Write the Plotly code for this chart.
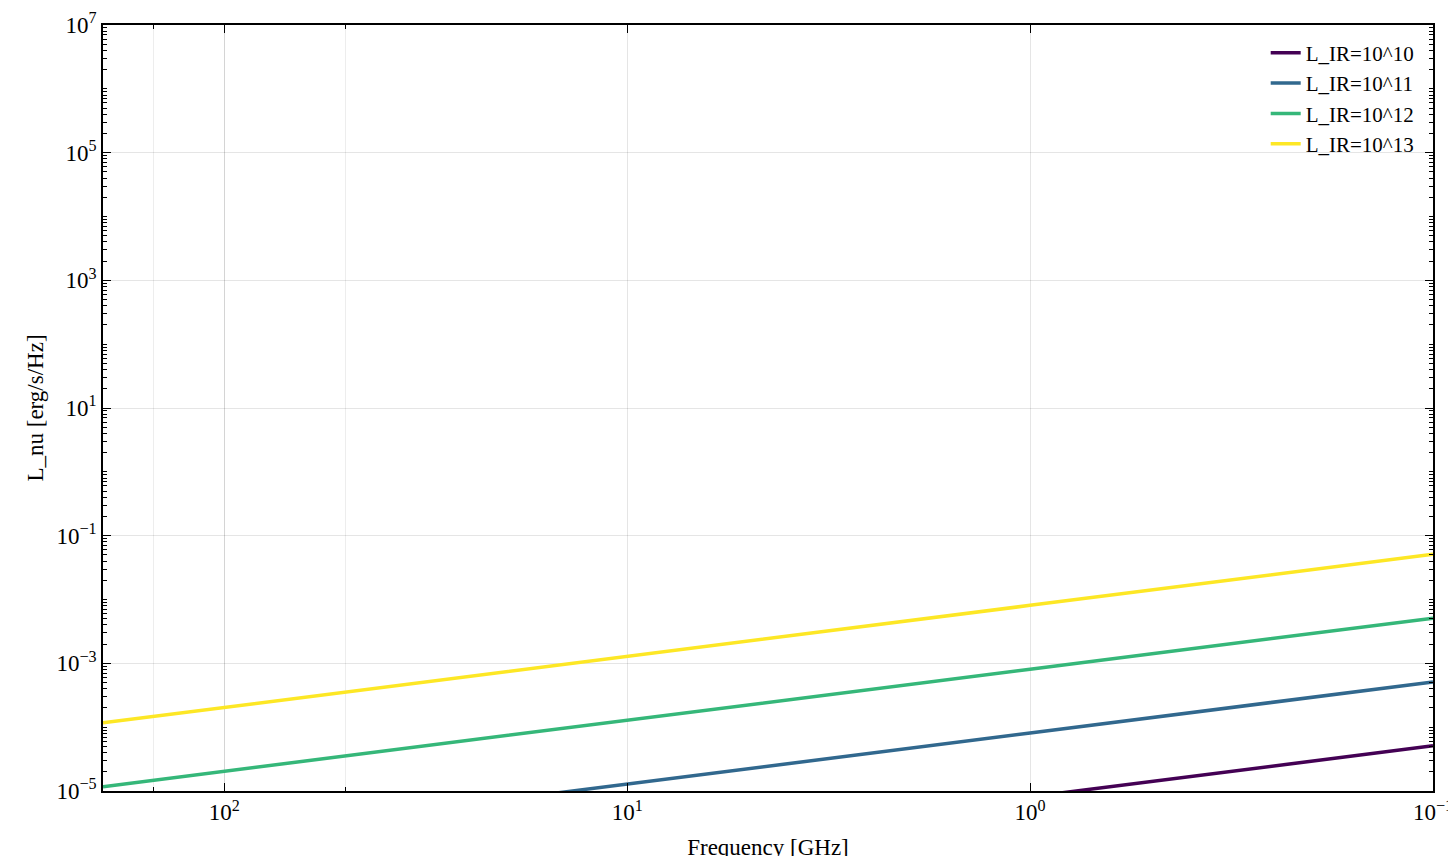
import plotly.graph_objects as go

# Data
freq_ghz = [200, 100, 10, 1, 0.1]
labels = ["L_IR=10^10", "L_IR=10^11", "L_IR=10^12", "L_IR=10^13"]
lnu_1e10 = [1.17e-7, 2.03e-7, 1.28e-6, 8.1e-6, 5.1e-5]
lnu_1e11 = [1.17e-6, 2.03e-6, 1.28e-5, 8.1e-5, 5.1e-4]
lnu_1e12 = [1.17e-5, 2.03e-5, 1.28e-4, 8.1e-4, 5.1e-3]
lnu_1e13 = [1.17e-4, 2.03e-4, 1.28e-3, 8.1e-3, 5.1e-2]
colors = ["#440154", "#31688e", "#35b779", "#fde725"]
x_ticks = [100, 10, 1, 0.1]
x_ticktext = ["10<sup>2</sup>", "10<sup>1</sup>", "10<sup>0</sup>", "10<sup>−1</sup>"]
y_exps = [-5, -3, -1, 1, 3, 5, 7]

fig = go.Figure()
for lab, ys, c in zip(labels, [lnu_1e10, lnu_1e11, lnu_1e12, lnu_1e13], colors):
    fig.add_trace(go.Scatter(x=freq_ghz, y=ys, mode="lines", name=lab,
                             line=dict(color=c, width=3.5)))

axis_common = dict(
    type="log", showline=True, linecolor="black", linewidth=1.5, mirror="allticks",
    ticks="inside", ticklen=8, tickwidth=1.2, tickcolor="black",
    gridcolor="rgba(0,0,0,0.1)", zeroline=False, automargin=False,
    tickfont=dict(size=23),
)
fig.update_xaxes(**axis_common, range=[2.301, -1],
                 tickvals=x_ticks, ticktext=x_ticktext,
                 minor=dict(ticks="inside", ticklen=4, tickcolor="black", showgrid=True,
                            gridcolor="rgba(0,0,0,0.07)"),
                 title=dict(text="Frequency [GHz]", font=dict(size=23)))
fig.update_yaxes(**axis_common, range=[-5, 7],
                 tickvals=[10 ** e for e in y_exps],
                 ticktext=["10<sup>%s</sup>" % str(e).replace("-", "−") for e in y_exps],
                 minor=dict(ticks="inside", ticklen=4, tickcolor="black", dtick="D1", showgrid=False),
                 title=dict(text="L_nu [erg/s/Hz]", font=dict(size=23), standoff=6))

fig.update_layout(
    width=1456, height=856,
    margin=dict(l=95, r=31, t=17, b=73),
    plot_bgcolor="white", paper_bgcolor="white",
    font=dict(family="Liberation Serif", color="black"),
    legend=dict(x=0.99, y=0.99, xanchor="right", yanchor="top",
                bgcolor="rgba(0,0,0,0)", font=dict(size=21)),
)

fig.write_html("out.html")
